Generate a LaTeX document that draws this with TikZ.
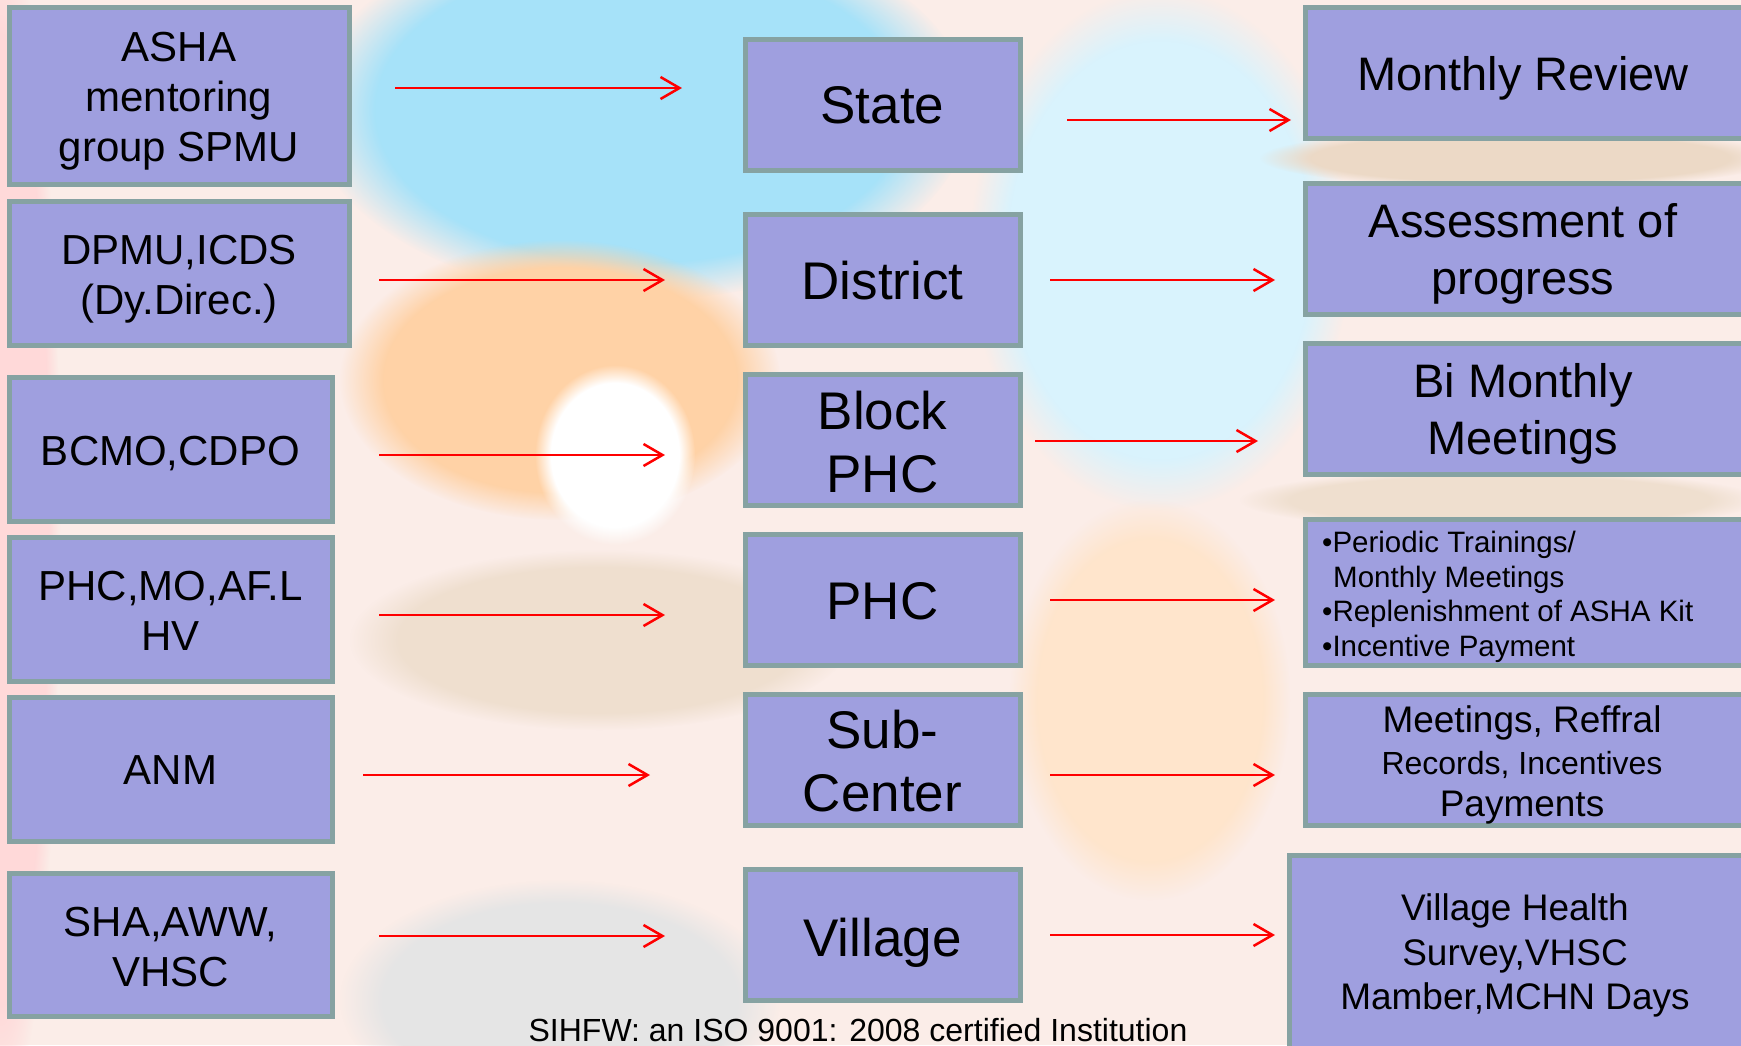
\documentclass[tikz,border=0pt]{standalone}
\usepackage{fontspec}
\setmainfont{Liberation Sans}
\usetikzlibrary{arrows.meta,fadings}
\definecolor{boxfill}{HTML}{9F9FDF}
\definecolor{boxline}{HTML}{86A2A2}
\definecolor{arrred}{HTML}{FF0000}
\definecolor{bgbase}{HTML}{FBEDE8}
\begin{document}
\begin{tikzpicture}[x=1pt,y=-1pt,
  bx/.style={draw=boxline, line width=5pt, fill=boxfill, rectangle, inner sep=0pt},
  tx/.style={inner sep=0pt, align=center, text=black},
  lf/.style={tx, font=\fontsize{42}{50}\selectfont},
  mf/.style={tx, font=\fontsize{53}{63}\selectfont},
  rf/.style={tx, font=\fontsize{47}{57}\selectfont},
  mbox/.style={bx, minimum width=275pt, minimum height=131pt},
  rbox/.style={bx, minimum width=440pt, minimum height=131pt},
  arr/.style={draw=arrred, line width=2.5pt, -{Straight Barb[length=19pt,width=22pt,line width=2.5pt]}},
  patch/.style={path fading=circle with fuzzy edge 20 percent}
]
\useasboundingbox (0,0) rectangle (1741,1045);
\clip (0,0) rectangle (1741,1045);
% background
\fill[bgbase] (0,0) rectangle (1741,1045);
\fill[pink!60, patch] (0,520) ellipse [x radius=60pt, y radius=600pt];
\fill[cyan!35, patch] (640,110) ellipse [x radius=330pt, y radius=190pt];
\fill[cyan!15, patch] (1160,250) ellipse [x radius=190pt, y radius=260pt];
\fill[orange!35, patch] (560,380) ellipse [x radius=220pt, y radius=140pt];
\fill[white, patch] (615,455) ellipse [x radius=80pt, y radius=90pt];
\fill[brown!30, patch] (1520,158) ellipse [x radius=260pt, y radius=30pt];
\fill[brown!25, patch] (1500,500) ellipse [x radius=260pt, y radius=30pt];
\fill[brown!25, patch] (600,640) ellipse [x radius=250pt, y radius=90pt];
\fill[white!80!gray, patch] (560,1000) ellipse [x radius=220pt, y radius=120pt];
\fill[orange!20, patch] (1150,700) ellipse [x radius=140pt, y radius=200pt];
% left column
\node[bx, minimum width=340pt, minimum height=177pt] (l1) at (179,95.5) {};
\node[bx, minimum width=340pt, minimum height=144pt] (l2) at (179,273) {};
\node[bx, minimum width=323pt, minimum height=144pt] (l3) at (170.5,449) {};
\node[bx, minimum width=323pt, minimum height=144pt] (l4) at (170.5,609) {};
\node[bx, minimum width=323pt, minimum height=144pt] (l5) at (170.5,769) {};
\node[bx, minimum width=323pt, minimum height=143pt] (l6) at (170.5,944.5) {};
\node[lf] (l1t) at ([yshift=-6pt]l1.center) {ASHA\\mentoring\\group SPMU};
\node[lf] (l2t) at ([yshift=-6pt]l2.center) {DPMU,ICDS\\(Dy.Direc.)};
\node[lf] (l3t) at ([yshift=-4.5pt]l3.center) {BCMO,CDPO};
\node[lf] (l4t) at ([yshift=-2pt]l4.center) {PHC,MO,AF.L\\HV};
\node[lf] (l5t) at ([yshift=-1pt]l5.center) {ANM};
\node[lf] (l6t) at ([yshift=-3pt]l6.center) {SHA,AWW,\\VHSC};
% middle column
\node[mbox] (m1) at (882.5,104.5) {};
\node[mbox] (m2) at (882.5,279.5) {};
\node[mbox] (m3) at (882.5,439.5) {};
\node[mbox] (m4) at (882.5,599.5) {};
\node[mbox] (m5) at (882.5,759.5) {};
\node[mbox] (m6) at (882.5,935) {};
\node[mf] (m1t) at ([yshift=-1pt]m1.center) {State};
\node[mf] (m2t) at ([yshift=-1pt]m2.center) {District};
\node[mf] (m3t) at ([yshift=-2.5pt]m3.center) {Block\\PHC};
\node[mf] (m4t) at ([yshift=-2pt]m4.center) {PHC};
\node[mf] (m5t) at ([yshift=-2pt]m5.center) {Sub-\\Center};
\node[mf] (m6t) at ([yshift=-8pt]m6.center) {Village};
% right column
\node[rbox] (r1) at (1525,72.5) {};
\node[rbox] (r2) at (1525,248.5) {};
\node[rbox] (r3) at (1525,408.5) {};
\node[rbox, minimum height=146pt] (r4) at (1525,592) {};
\node[rbox] (r5) at (1525,759.5) {};
\node[bx, minimum width=456pt, minimum height=205pt] (r6) at (1517,957.5) {};
\node[rf] (r1t) at (1523,78) {Monthly Review};
\node[rf] (r2t) at (1523,254) {Assessment of\\progress};
\node[rf] (r3t) at (1523,414) {Bi Monthly\\Meetings};
\node[tx, anchor=west, align=left, font=\fontsize{29.5}{34.5}\selectfont] (r4t) at (1322,597)
  {•Periodic Trainings/\\\hspace*{11pt}Monthly Meetings\\•Replenishment of ASHA Kit\\•Incentive Payment};
\node[tx, font=\fontsize{37}{42}\selectfont] (r5t) at (1522,765)
  {Meetings, Reffral\\{\fontsize{32}{42}\selectfont Records, Incentives}\\Payments};
\node[tx, font=\fontsize{37}{44.5}\selectfont] (r6t) at (1515,955.5)
  {Village Health\\Survey,VHSC\\Mamber,MCHN Days};
% arrows
\coordinate (a1s) at (395,88);  \coordinate (a1e) at (682,88);
\coordinate (a2s) at (379,280); \coordinate (a2e) at (665,280);
\coordinate (a3s) at (379,455); \coordinate (a3e) at (665,455);
\coordinate (a4s) at (379,615); \coordinate (a4e) at (665,615);
\coordinate (a5s) at (363,775); \coordinate (a5e) at (650,775);
\coordinate (a6s) at (379,936); \coordinate (a6e) at (665,936);
\coordinate (b1s) at (1067,120); \coordinate (b1e) at (1291,120);
\coordinate (b2s) at (1050,280); \coordinate (b2e) at (1275,280);
\coordinate (b3s) at (1035,441); \coordinate (b3e) at (1258,441);
\coordinate (b4s) at (1050,600); \coordinate (b4e) at (1275,600);
\coordinate (b5s) at (1050,775); \coordinate (b5e) at (1275,775);
\coordinate (b6s) at (1050,935); \coordinate (b6e) at (1275,935);
\foreach \i in {1,...,6} {
  \draw[arr] (a\i s) -- (a\i e);
  \draw[arr] (b\i s) -- (b\i e);
}
% footer
\node[tx, font=\fontsize{32}{36}\selectfont] (foot) at (858,1030) {SIHFW: an ISO 9001: 2008 certified Institution};
\end{tikzpicture}
\end{document}
